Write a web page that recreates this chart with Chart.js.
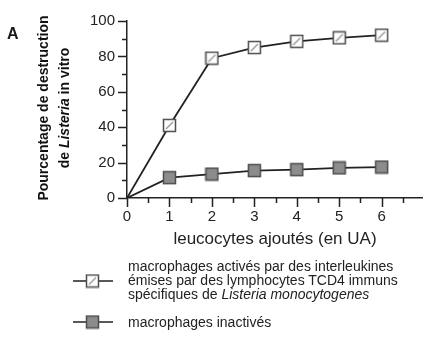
<!DOCTYPE html>
<html>
<head>
<meta charset="utf-8">
<script src="https://cdn.jsdelivr.net/npm/chart.js@4.4.1/dist/chart.umd.min.js"></script>
<style>
    body { margin: 0; background: #fff; font-family: "Liberation Sans", Arial, sans-serif; }
    #wrap { position: relative; width: 434px; height: 341px; overflow: hidden; }
    #letter { position: absolute; left: 7px; top: 25px; font-weight: bold; font-size: 16px; line-height: 18px; color: #1a1a1a; }
    #ytitle { position: absolute; left: 54px; top: 108px; width: 220px; transform: translate(-50%, -50%) rotate(-90deg);
              text-align: center; font-weight: bold; font-size: 14px; line-height: 21px; color: #111; }
    #xtitle { position: absolute; left: 275px; top: 239px; transform: translate(-50%, -50%); white-space: nowrap;
              font-size: 17px; color: #222; }
    .leg { position: absolute; left: 128px; font-size: 14px; line-height: 14px; color: #222; white-space: nowrap; }
    .mark { position: absolute; left: 72px; }
</style>
</head>
<body>
<div id="wrap">
    <canvas id="chart" width="434" height="341"></canvas>
    <div id="letter">A</div>
    <div id="ytitle">Pourcentage de destruction<br>de <i>Listeria</i> in vitro</div>
    <div id="xtitle">leucocytes ajoutés (en UA)</div>
    <canvas class="mark" id="mark1" width="42" height="16" style="top:273px"></canvas>
    <canvas class="mark" id="mark2" width="42" height="16" style="top:314px"></canvas>
    <div class="leg" style="top:259px">macrophages activés par des interleukines<br>émises par des lymphocytes TCD4 immuns<br>spécifiques de <i>Listeria monocytogenes</i></div>
    <div class="leg" style="top:315px">macrophages inactivés</div>
</div>
<script>
// Data
const leucocytes = [0, 1, 2, 3, 4, 5, 6];
const activated = [0, 41, 79, 85, 88.5, 90.5, 92];
const inactive = [0, 11.5, 13.5, 15.5, 16, 17, 17.5];
const yTicks = [0, 20, 40, 60, 80, 100];

// square markers
function makeSquare(hatched) {
    const c = document.createElement('canvas');
    c.width = 15; c.height = 15;
    const g = c.getContext('2d');
    g.fillStyle = hatched ? '#ffffff' : '#8c8c8c';
    g.fillRect(1.5, 1.5, 12, 12);
    if (hatched) {
        g.strokeStyle = '#9a9a9a';
        g.lineWidth = 1.4;
        g.beginPath();
        g.moveTo(4, 11);
        g.lineTo(11, 4);
        g.stroke();
    }
    g.strokeStyle = '#4d4d4d';
    g.lineWidth = 1.5;
    g.strokeRect(1.5, 1.5, 12, 12);
    return c;
}
const hatchSquare = makeSquare(true);
const greySquare = makeSquare(false);

function drawLegendMark(id, img) {
    const g = document.getElementById(id).getContext('2d');
    g.strokeStyle = '#222';
    g.lineWidth = 1.6;
    g.beginPath();
    g.moveTo(1, 8);
    g.lineTo(41, 8);
    g.stroke();
    g.drawImage(img, 13, 0.5);
}
drawLegendMark('mark1', hatchSquare);
drawLegendMark('mark2', greySquare);

// axis ticks (major + minor)
const tickPlugin = {
    id: 'ticks',
    afterDraw(chart) {
        const ctx = chart.ctx;
        const x = chart.scales.x, y = chart.scales.y;
        ctx.save();
        ctx.strokeStyle = '#222';
        ctx.lineWidth = 1.5;
        ctx.beginPath();
        for (let v = 0; v <= 6.5; v += 0.5) {
            const px = Math.round(x.getPixelForValue(v)) + 0.5;
            const len = Number.isInteger(v) ? 9 : 5;
            ctx.moveTo(px, y.bottom);
            ctx.lineTo(px, y.bottom + len);
        }
        for (let v = 0; v <= 100; v += 10) {
            const py = Math.round(y.getPixelForValue(v)) + 0.5;
            const len = v % 20 === 0 ? 9 : 5;
            ctx.moveTo(x.left, py);
            ctx.lineTo(x.left - len, py);
        }
        ctx.stroke();
        ctx.restore();
    }
};

const Ctx = document.getElementById('chart');
const lineChart = new Chart(Ctx, {
    type: 'line',
    data: {
        datasets: [{
            label: 'macrophages activés',
            data: leucocytes.map((v, i) => ({ x: v, y: activated[i] })),
            borderColor: '#222',
            borderWidth: 1.8,
            pointStyle: hatchSquare,
            pointRadius: ctx => ctx.dataIndex === 0 ? 0 : 7,
            tension: 0
        }, {
            label: 'macrophages inactivés',
            data: leucocytes.map((v, i) => ({ x: v, y: inactive[i] })),
            borderColor: '#222',
            borderWidth: 1.8,
            pointStyle: greySquare,
            pointRadius: ctx => ctx.dataIndex === 0 ? 0 : 7,
            tension: 0
        }]
    },
    options: {
        responsive: false,
        animation: false,
        layout: { padding: { top: 18, right: 12, left: 0, bottom: 0 } },
        plugins: { legend: { display: false }, tooltip: { enabled: false } },
        scales: {
            x: {
                type: 'linear',
                min: 0,
                max: 6.95,
                grid: { display: false, drawTicks: false },
                border: { display: true, color: '#222', width: 1.5 },
                afterBuildTicks: s => { s.ticks = leucocytes.map(v => ({ value: v })); },
                afterFit: s => { s.height = 143; },
                ticks: { padding: 10, color: '#222', font: { family: 'Liberation Sans', size: 15 }, maxRotation: 0 }
            },
            y: {
                min: 0,
                max: 100,
                grid: { display: false, drawTicks: false },
                border: { display: true, color: '#222', width: 1.5 },
                afterBuildTicks: s => { s.ticks = yTicks.map(v => ({ value: v })); },
                afterFit: s => { s.width = 127; },
                ticks: { padding: 12, color: '#222', font: { family: 'Liberation Sans', size: 15 } }
            }
        }
    },
    plugins: [tickPlugin]
});
</script>
</body>
</html>
